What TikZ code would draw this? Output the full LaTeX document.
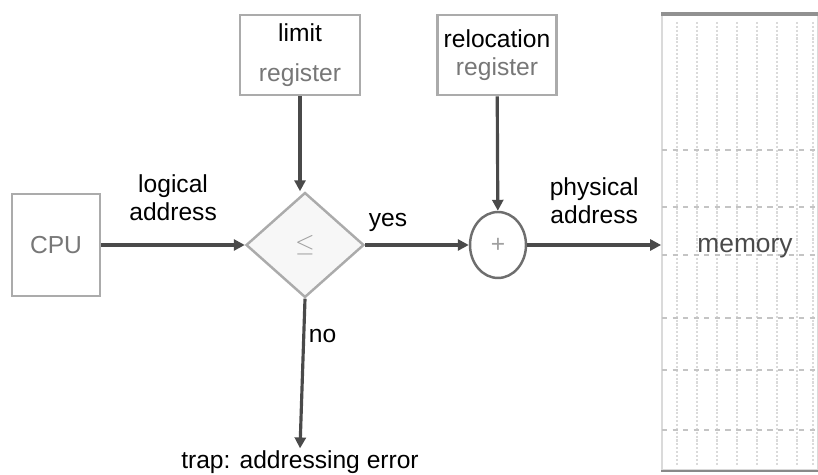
\documentclass[tikz,border=0pt]{standalone}
\usepackage{fontspec}
\setmainfont{Liberation Sans}
\usetikzlibrary{arrows.meta, positioning, shapes.geometric}
\definecolor{cline}{HTML}{4A4A4A}
\definecolor{cframe}{HTML}{ABABAB}
\definecolor{ctext}{HTML}{777777}
\definecolor{cgrid}{HTML}{DADADA}
\tikzset{
  every picture/.style={font=\fontsize{14}{16}\selectfont},
  box/.style={draw=cframe, fill=white, line width=1.6pt, align=center, inner sep=2pt},
  arrow/.style={-{Triangle[length=2.2mm, width=2.2mm]}, draw=cline, line width=1.8pt},
  lab/.style={align=center, inner sep=1pt},
}
\begin{document}
\begin{tikzpicture}[x=0.02cm, y=-0.02cm]
  \useasboundingbox (0,0) rectangle (818,475);
  % memory with its faint grid
  \node[draw=cgrid, line width=1pt, minimum width=3.12cm, minimum height=9.1cm, inner sep=0pt] (mem) at (740,242.5) {};
  \foreach \x in {677,697,717,737,757,777,797,813}
    \draw[cgrid, densely dotted, line width=1.2pt] (\x,22) -- (\x,466);
  \foreach \y in {150,207,255,318,370,430}
    \draw[cgrid!90!black, dashed, line width=1pt] (662,\y) -- (818,\y);
  \draw[cframe!85!black, line width=2pt] (mem.north west) -- (mem.north east);
  \draw[cframe!80!black, line width=1pt] (mem.south west) -- (mem.south east);
  \node[text=cline, font=\fontsize{15}{17}\selectfont] (memtext) at (745,248) {memory};
  % boxes
  \node[box, minimum width=1.76cm, minimum height=2.04cm, text=ctext] (cpu) at (56,245) {CPU};
  \node[box, minimum width=2.4cm, minimum height=1.6cm] (limit) at (300,55) {limit\\[7pt]\textcolor{ctext}{register}};
  \node[box, minimum width=2.38cm, minimum height=1.6cm] (reloc) at (497,55) {relocation\\\textcolor{ctext}{register}};
  \node[diamond, draw=cframe, fill=gray!6, line width=1.4pt, aspect=1.12, minimum width=2.36cm, minimum height=2.1cm, inner sep=0pt, text=ctext!70] (cmp) at (305,245) {$\leq$};
  \node[ellipse, draw=cline!80, fill=white, line width=1.4pt, minimum width=1.12cm, minimum height=1.32cm, inner sep=0pt, text=ctext!70] (plus) at (498,245) {+};
  \node[lab] (trap) at (300,462) {trap: addressing error};
  % connectors
  \draw[arrow] (cpu) -- node[lab, midway, above=12pt] {logical\\address} (cmp);
  \draw[arrow] (limit) -- (limit |- cmp.north);
  \draw[arrow] (cmp) -- node[lab, pos=0.22, above=6pt] {yes} (plus);
  \draw[arrow] (reloc) -- (plus);
  \draw[arrow] (plus) -- node[lab, midway, above=10pt] {physical\\address} (plus -| mem.west);
  \draw[arrow] (cmp.south) -- node[lab, pos=0.25, right=1pt] {no} (trap.north);
\end{tikzpicture}
\end{document}
